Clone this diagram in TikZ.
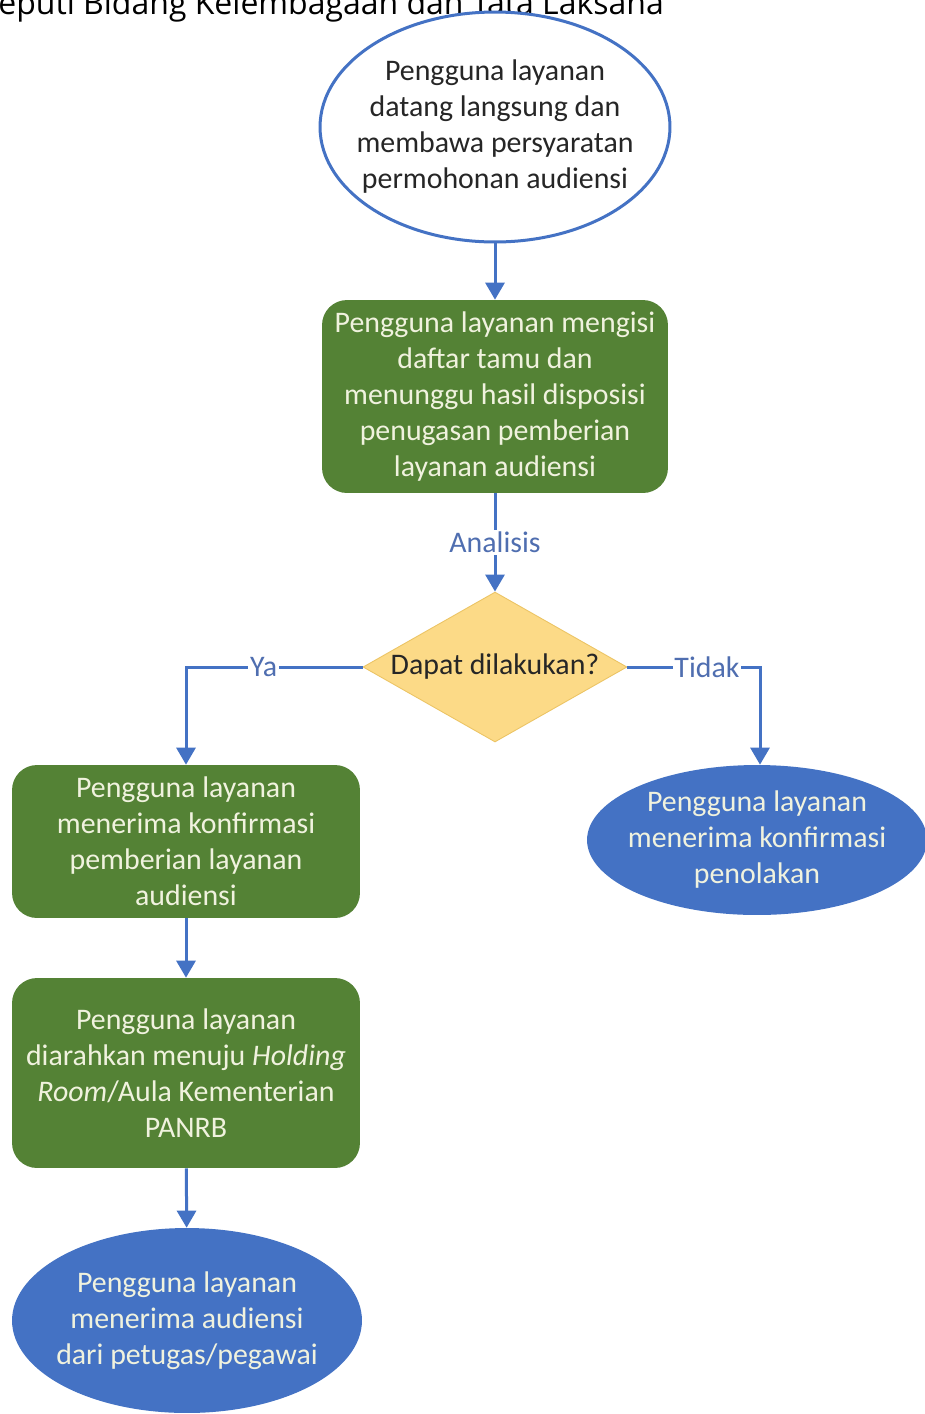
\documentclass[tikz,border=0pt]{standalone}
\usepackage{fontspec}
\setmainfont{Carlito}
\newfontfamily\titlefont{Open Sans}
\usepackage{xcolor}
\usetikzlibrary{shapes.geometric, arrows.meta, positioning, calc}
\definecolor{flowblue}{RGB}{68,114,196}
\definecolor{labelblue}{RGB}{79,110,176}
\definecolor{boxgreen}{RGB}{84,130,53}
\definecolor{decyellow}{RGB}{252,218,135}
\definecolor{decedge}{RGB}{236,196,100}
\definecolor{paletext}{RGB}{240,242,222}

\tikzset{
  flow/.style={draw=flowblue, line width=0.06cm, -{Triangle[width=0.38cm,length=0.34cm]}},
  stepbox/.style={rectangle, rounded corners=0.5cm, fill=boxgreen, text=paletext, align=center,
    minimum width=6.96cm, inner sep=0pt, font=\fontsize{17}{20.5}\selectfont},
  endball/.style={ellipse, fill=flowblue, text=paletext, align=center, inner xsep=-0.3cm, inner ysep=0pt,
    font=\fontsize{17}{20.5}\selectfont},
  lbl/.style={text=labelblue, fill=white, inner sep=1pt, font=\fontsize{17}{20}\selectfont}
}

\begin{document}
\begin{tikzpicture}[x=0.02cm, y=-0.02cm]
\clip (0,0) rectangle (925,1414);
\fill[white] (0,0) rectangle (925,1414);

% heading, cut off by the page edge
\node[anchor=base west, inner sep=0pt, font=\titlefont\fontsize{18.2}{20}\selectfont] (head) at (-2,14) {eputi Bidang Kelembagaan dan Tata Laksana};

% start
\node[ellipse, draw=flowblue, line width=0.06cm, fill=white, minimum width=7cm, minimum height=4.6cm,
  inner xsep=-0.3cm, inner ysep=0pt, align=center, text=black!85, font=\fontsize{17}{20.5}\selectfont] (start) at (495,127)
  {Pengguna layanan\\datang langsung dan\\membawa persyaratan\\permohonan audiensi};

\node[stepbox, minimum width=6.92cm, minimum height=3.86cm] (guest) at (495,396.5)
  {Pengguna layanan mengisi\\daftar tamu dan\\menunggu hasil disposisi\\penugasan pemberian\\layanan audiensi};

\node[diamond, aspect=1.76, fill=decyellow, draw=decedge, line width=0.5pt, minimum width=5.28cm, minimum height=3cm,
  inner sep=0pt, text=black!85, font=\fontsize{17}{20}\selectfont] (check) at (495,667) {Dapat dilakukan?};

\node[stepbox, minimum height=3.06cm] (accept) at (186,841.5)
  {Pengguna layanan\\menerima konfirmasi\\pemberian layanan\\audiensi};

\node[endball, minimum width=6.8cm, minimum height=3cm] (reject) at (757,840)
  {Pengguna layanan\\menerima konfirmasi\\penolakan};

\node[stepbox, minimum height=3.8cm] (holding) at (186,1073)
  {Pengguna layanan\\diarahkan menuju \textit{Holding}\\\textit{Room}/Aula Kementerian\\PANRB};

\node[endball, minimum width=7cm, minimum height=3.7cm] (meet) at (187,1320.5)
  {Pengguna layanan\\menerima audiensi\\dari petugas/pegawai};

% connectors
\draw[flow] (start) -- (guest);
\draw[flow] (guest) -- node[lbl] {Analisis} (check);
\draw[flow] (check.west) -| node[lbl, pos=0.28] {Ya} (accept.north);
\draw[flow] (check.east) -| node[lbl, pos=0.3] {Tidak} (reject.north -| 760,0);
\draw[flow] (accept) -- (holding);
\draw[flow] (holding) -- (meet);
\end{tikzpicture}
\end{document}
